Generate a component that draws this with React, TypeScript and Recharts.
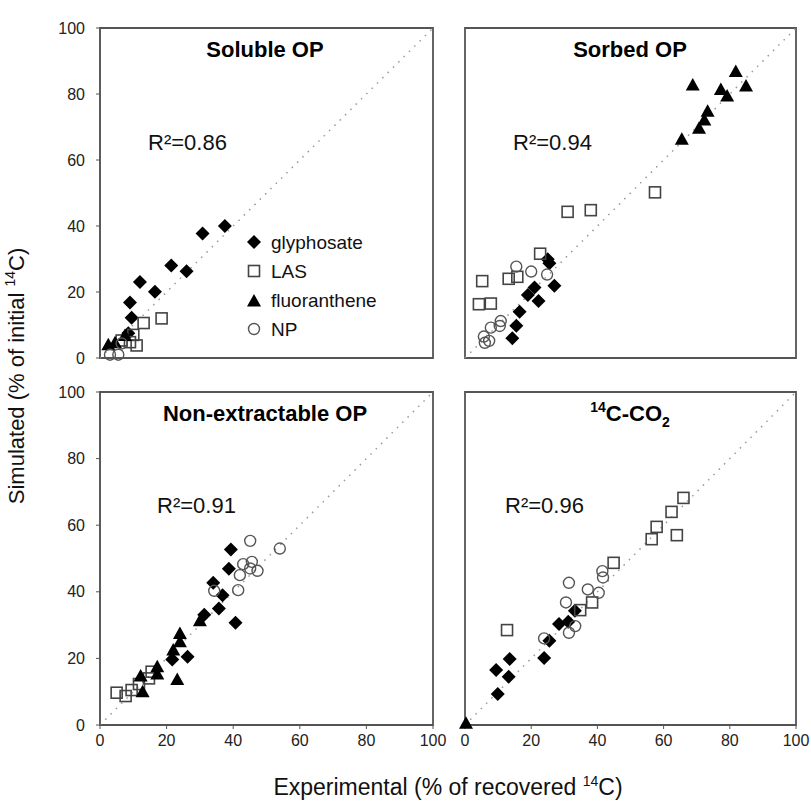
import React from "react";
import { ScatterChart, Scatter, XAxis, YAxis, ReferenceArea, ReferenceLine } from "recharts";

type P = [number, number];

// Soluble OP
const solubleGlyphosate: P[] = [[37.5, 40], [30.8, 37.7], [21.4, 28], [26, 26.3], [12, 23], [16.5, 20.1], [9, 16.8], [9.5, 12.2], [8.5, 7.5]];
const solubleLAS: P[] = [[13.1, 10.6], [18.5, 12], [10, 7], [9, 4.8], [11, 3.8], [6.5, 5.3]];
const solubleFluor: P[] = [[2.5, 4], [4.5, 4.6], [7.5, 6.8]];
const solubleNP: P[] = [[3, 1], [5.5, 1], [6.5, 4.4]];

// Sorbed OP
const sorbedGlyphosate: P[] = [[25, 29.9], [25.5, 28.7], [21, 21.4], [19, 19.1], [22.2, 17.3], [27, 21.9], [16.5, 14], [15.5, 9.8], [14.3, 6]];
const sorbedLAS: P[] = [[31, 44.3], [38, 44.8], [22.7, 31.6], [5.2, 23.3], [13.2, 24], [15.8, 24.6], [4.2, 16.3], [7.8, 16.5], [57.4, 50.2]];
const sorbedFluor: P[] = [[81.8, 86.8], [68.8, 82.7], [84.9, 82.4], [77.3, 81.4], [79.2, 79.4], [73.3, 74.8], [72.3, 72.1], [70.7, 69.6], [65.5, 66.3]];
const sorbedNP: P[] = [[15.5, 27.7], [20, 26.2], [24.8, 25.3], [10.8, 11.2], [10.5, 9.7], [7.8, 9.2], [5.7, 6.5], [7.3, 5.2], [6, 4.6]];

// Non-extractable OP
const nonextGlyphosate: P[] = [[39.3, 52.7], [38.7, 46.9], [34, 42.7], [36.8, 39], [35.7, 35], [40.7, 30.7], [31.3, 33.1], [26.3, 20.5], [21.7, 19.7]];
const nonextLAS: P[] = [[15.5, 16], [14.7, 14], [11.7, 12.3], [9.5, 10.5], [7.7, 8.7], [5, 9.7]];
const nonextFluor: P[] = [[24, 27.5], [24, 25], [22, 22.5], [23.2, 13.7], [17.2, 17.5], [17.2, 15.3], [12.2, 14.7], [12.8, 10], [30, 31.3]];
const nonextNP: P[] = [[45.1, 55.3], [43, 48.3], [45.6, 49], [45.1, 47], [47.3, 46.3], [42, 45], [41.5, 40.5], [34.3, 40.3], [54, 53]];

// 14C-CO2
const co2Glyphosate: P[] = [[33.2, 34.3], [28.4, 30.3], [31.2, 31], [25.5, 25.3], [23.9, 20.1], [13.5, 19.8], [9.4, 16.5], [13.2, 14.5], [9.9, 9.3]];
const co2LAS: P[] = [[44.9, 48.7], [38.4, 36.8], [34.8, 34.5], [12.7, 28.5], [66, 68.2], [62.4, 64], [57.9, 59.5], [56.4, 55.8], [64, 57]];
const co2Fluor: P[] = [[0.3, 0.5]];
const co2NP: P[] = [[41.5, 46.2], [41.7, 44.3], [31.4, 42.7], [37.1, 40.7], [40.4, 39.7], [30.5, 36.8], [33.3, 29.7], [31.4, 27.7], [23.9, 26]];

const axisTicks = [0, 20, 40, 60, 80, 100];
const legendLabels = ["glyphosate", "LAS", "fluoranthene", "NP"];

const toPts = (a: P[]) => a.map(([x, y]) => ({ x, y }));

const Diamond = (p: any) => {
  const { cx, cy } = p;
  const r = 7;
  return <path d={`M${cx},${cy - r}L${cx + r},${cy}L${cx},${cy + r}L${cx - r},${cy}Z`} fill="#000" />;
};
const Square = (p: any) => {
  const { cx, cy } = p;
  return <rect x={cx - 5.5} y={cy - 5.5} width={11} height={11} fill="none" stroke="#444" strokeWidth={1.6} />;
};
const Tri = (p: any) => {
  const { cx, cy } = p;
  return <path d={`M${cx},${cy - 7}L${cx + 7},${cy + 5.5}L${cx - 7},${cy + 5.5}Z`} fill="#000" />;
};
const Circ = (p: any) => {
  const { cx, cy } = p;
  return <circle cx={cx} cy={cy} r={5.5} fill="none" stroke="#555" strokeWidth={1.4} />;
};

const FONT = "'Liberation Sans', Arial, sans-serif";

function Panel(props: {
  left: number; top: number; width: number; height: number;
  margin: any; showX: boolean; showY: boolean; sets: P[][];
}) {
  const { left, top, width, height, margin, showX, showY, sets } = props;
  const shapes = [Diamond, Square, Tri, Circ];
  return (
    <div style={{ position: "absolute", left, top }}>
      <ScatterChart width={width} height={height} margin={margin}>
        <XAxis type="number" dataKey="x" domain={[0, 100]} ticks={axisTicks} hide={!showX} height={30}
          tick={{ fontSize: 16, fill: "#222", fontFamily: FONT }} stroke="#555" tickSize={4} tickMargin={6} interval={0} />
        <YAxis type="number" dataKey="y" domain={[0, 100]} ticks={axisTicks} hide={!showY} width={60}
          tick={{ fontSize: 16, fill: "#222", fontFamily: FONT }} stroke="#555" tickSize={4} tickMargin={11} interval={0} />
        <ReferenceLine segment={[{ x: 0, y: 0 }, { x: 100, y: 100 }]} stroke="#999" strokeWidth={1.5} strokeDasharray="1.5 6" />
        <ReferenceArea x1={0} x2={100} y1={0} y2={100} fill="none" stroke="#555" strokeWidth={1.8} fillOpacity={0} />
        {sets.map((s, i) => (
          <Scatter key={i} data={toPts(s)} shape={shapes[i]} isAnimationActive={false} />
        ))}
      </ScatterChart>
    </div>
  );
}

export default function App() {
  const sup = (t: string) => (
    <tspan fontSize="14" dy="-9">{t}</tspan>
  );
  return (
    <div style={{ position: "fixed", left: 0, top: 0, width: 811, height: 806, overflow: "hidden", fontFamily: FONT, background: "#fff" }}>
      <Panel left={40} top={18} width={423} height={350} margin={{ top: 10, right: 30, bottom: 10, left: 0 }}
        showX={false} showY={true} sets={[solubleGlyphosate, solubleLAS, solubleFluor, solubleNP]} />
      <Panel left={455} top={18} width={351} height={350} margin={{ top: 10, right: 10, bottom: 10, left: 10 }}
        showX={false} showY={false} sets={[sorbedGlyphosate, sorbedLAS, sorbedFluor, sorbedNP]} />
      <Panel left={40} top={382} width={423} height={383} margin={{ top: 10, right: 30, bottom: 10, left: 0 }}
        showX={true} showY={true} sets={[nonextGlyphosate, nonextLAS, nonextFluor, nonextNP]} />
      <Panel left={455} top={382} width={356} height={383} margin={{ top: 10, right: 15, bottom: 10, left: 10 }}
        showX={true} showY={false} sets={[co2Glyphosate, co2LAS, co2Fluor, co2NP]} />
      <svg width={811} height={806} style={{ position: "absolute", left: 0, top: 0, pointerEvents: "none" }} fontFamily={FONT}>
        <text x={265} y={57} textAnchor="middle" fontSize={22} fontWeight="bold" fill="#000">Soluble OP</text>
        <text x={630} y={57} textAnchor="middle" fontSize={22} fontWeight="bold" fill="#000">Sorbed OP</text>
        <text x={265} y={421} textAnchor="middle" fontSize={22} fontWeight="bold" fill="#000">Non-extractable OP</text>
        <text x={630} y={421} textAnchor="middle" fontSize={22} fontWeight="bold" fill="#000">
          {sup("14")}<tspan dy="9">C-CO</tspan><tspan fontSize="14" dy="6">2</tspan>
        </text>
        <text x={148} y={150} fontSize={22} fill="#111">R²=0.86</text>
        <text x={513} y={150} fontSize={22} fill="#111">R²=0.94</text>
        <text x={157} y={513} fontSize={22} fill="#111">R²=0.91</text>
        <text x={505} y={513} fontSize={22} fill="#111">R²=0.96</text>
        {/* legend */}
        <Diamond cx={254} cy={242} />
        <Square cx={254} cy={271} />
        <Tri cx={254} cy={301} />
        <Circ cx={254} cy={329} />
        {legendLabels.map((l, i) => (
          <text key={l} x={271} y={249 + i * 29} fontSize={19} fill="#111">{l}</text>
        ))}
        <text x={448} y={795} textAnchor="middle" fontSize={23} fill="#111">
          Experimental (% of recovered {sup("14")}<tspan dy="9">C)</tspan>
        </text>
        <text transform="translate(24,376) rotate(-90)" textAnchor="middle" fontSize={22} fill="#111">
          Simulated (% of initial {sup("14")}<tspan dy="9">C)</tspan>
        </text>
      </svg>
    </div>
  );
}
